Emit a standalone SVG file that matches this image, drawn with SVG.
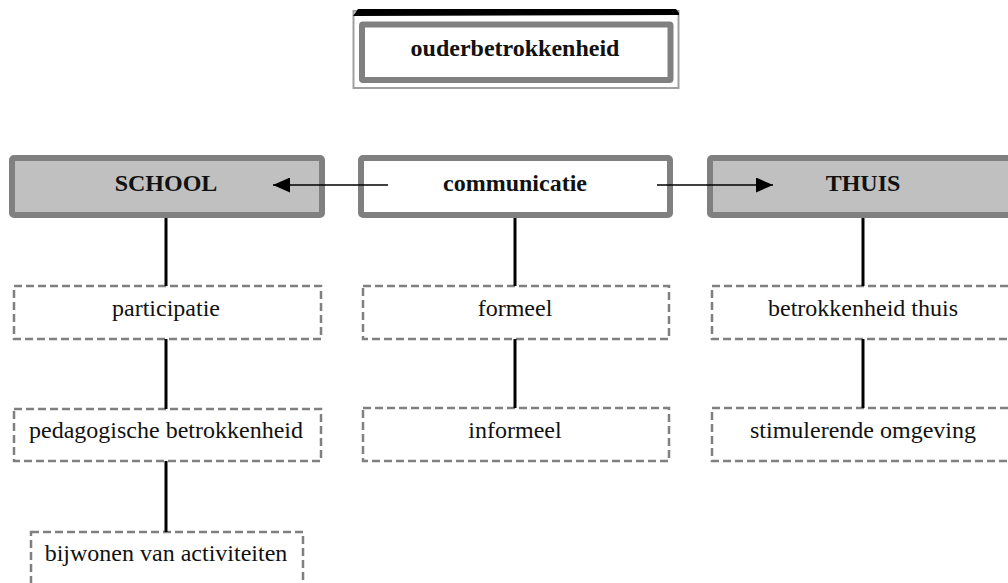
<svg xmlns="http://www.w3.org/2000/svg" width="1008" height="583" viewBox="0 0 1008 583">
  <defs>
    <style>
      text { font-family: 'Liberation Serif', 'Times New Roman', Tinos, 'DejaVu Serif', serif; font-size: 24px; text-anchor: middle; fill: #111; }
      .b { font-weight: bold; }
      .main { fill: #c0c0c0; stroke: #808080; stroke-width: 6; }
      .mainw { fill: #ffffff; stroke: #808080; stroke-width: 6; }
      .dash { fill: #ffffff; stroke: #808080; stroke-width: 2.5; stroke-dasharray: 8 4; }
      .vline { stroke: #000; stroke-width: 3; fill: none; }
      .arr { stroke: #000; stroke-width: 1.5; fill: none; marker-end: url(#ah); }
    </style>
    <marker id="ah" viewBox="0 0 17 15" refX="17" refY="7.5" markerUnits="userSpaceOnUse" markerWidth="17" markerHeight="15" orient="auto">
      <path d="M0,0 L17,7.5 L0,15 Z" fill="#000"/>
    </marker>
  </defs>
  <rect width="1008" height="583" fill="#ffffff"/>

  <g id="ouderbetrokkenheid">
    <rect x="353.5" y="11" width="325" height="77" fill="#ffffff" stroke="#a0a0a0" stroke-width="2"/>
    <polygon points="353,16 358,9 676,9 679,13 679,15 353,16" fill="#000"/>
    <rect x="362" y="24.5" width="308.5" height="55.5" fill="#ffffff" stroke="#808080" stroke-width="6" rx="1"/>
    <text class="b" x="515" y="56">ouderbetrokkenheid</text>
  </g>

  <g id="school">
    <rect class="main" x="12" y="158" width="310" height="57" rx="2"/>
    <text class="b" x="166" y="191">SCHOOL</text>
  </g>

  <g id="communicatie">
    <rect class="mainw" x="361" y="158" width="309" height="57" rx="2"/>
    <text class="b" x="515" y="191">communicatie</text>
  </g>

  <g id="thuis">
    <rect class="main" x="710" y="158" width="310" height="57" rx="2"/>
    <text class="b" x="863" y="191">THUIS</text>
  </g>

  <g id="participatie">
    <rect class="dash" x="14" y="286" width="307" height="53"/>
    <text x="166" y="316">participatie</text>
  </g>

  <g id="pedagogische-betrokkenheid">
    <rect class="dash" x="14" y="409" width="307" height="52"/>
    <text x="166" y="438">pedagogische betrokkenheid</text>
  </g>

  <g id="bijwonen-van-activiteiten">
    <rect class="dash" x="31" y="532" width="272" height="60"/>
    <text x="166" y="561">bijwonen van activiteiten</text>
  </g>

  <g id="formeel">
    <rect class="dash" x="363" y="286" width="306" height="53"/>
    <text x="515" y="316">formeel</text>
  </g>

  <g id="informeel">
    <rect class="dash" x="363" y="408" width="306" height="53"/>
    <text x="515" y="438">informeel</text>
  </g>

  <g id="betrokkenheid-thuis">
    <rect class="dash" x="712" y="286" width="307" height="53"/>
    <text x="863" y="316">betrokkenheid thuis</text>
  </g>

  <g id="stimulerende-omgeving">
    <rect class="dash" x="712" y="408" width="307" height="53"/>
    <text x="863" y="438">stimulerende omgeving</text>
  </g>

  <g id="connectors">
    <line class="arr" x1="388" y1="185" x2="273" y2="185"/>
    <line class="arr" x1="657" y1="185" x2="773" y2="185"/>
    <line class="vline" x1="166" y1="218" x2="166" y2="286"/>
    <line class="vline" x1="166" y1="339" x2="166" y2="409"/>
    <line class="vline" x1="166" y1="461" x2="166" y2="532"/>
    <line class="vline" x1="515" y1="218" x2="515" y2="286"/>
    <line class="vline" x1="515" y1="339" x2="515" y2="408"/>
    <line class="vline" x1="863" y1="218" x2="863" y2="286"/>
    <line class="vline" x1="863" y1="339" x2="863" y2="408"/>
  </g>
</svg>
